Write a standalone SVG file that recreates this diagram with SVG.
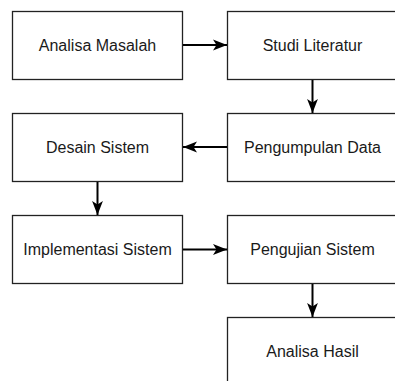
<svg xmlns="http://www.w3.org/2000/svg" width="395" height="381" viewBox="0 0 395 381">
<style>
.box{fill:#fff;stroke:#222;stroke-width:1.3}
.lbl{font-family:"Liberation Sans",Arial,sans-serif;font-size:16px;fill:#1a1a1a;text-anchor:middle;dominant-baseline:central}
.edge{stroke:#000;stroke-width:2;fill:none;marker-end:url(#arr)}
</style>
<defs>
<marker id="arr" viewBox="0 0 14 12" refX="14" refY="6" markerWidth="14" markerHeight="12" markerUnits="userSpaceOnUse" orient="auto">
<path d="M0,0.6 L14,6 L0,11.4 L3.5,6 Z" fill="#000"/>
</marker>
</defs>
<rect width="395" height="381" fill="#fff"/>
<g id="n1"><rect class="box" x="12.5" y="11.5" width="170" height="68"/><text class="lbl" x="97.5" y="45.5">Analisa Masalah</text></g>
<g id="n2"><rect class="box" x="227.5" y="11.5" width="170" height="68"/><text class="lbl" x="312.5" y="45.5">Studi Literatur</text></g>
<g id="n3"><rect class="box" x="227.5" y="113.5" width="170" height="68"/><text class="lbl" x="312.5" y="147.5">Pengumpulan Data</text></g>
<g id="n4"><rect class="box" x="12.5" y="113.5" width="170" height="68"/><text class="lbl" x="97.5" y="147.5">Desain Sistem</text></g>
<g id="n5"><rect class="box" x="12.5" y="215.5" width="170" height="68"/><text class="lbl" x="97.5" y="249.5">Implementasi Sistem</text></g>
<g id="n6"><rect class="box" x="227.5" y="215.5" width="170" height="68"/><text class="lbl" x="312.5" y="249.5">Pengujian Sistem</text></g>
<g id="n7"><rect class="box" x="227.5" y="317.5" width="170" height="68"/><text class="lbl" x="312.5" y="351.5">Analisa Hasil</text></g>
<g id="edges">
<path class="edge" d="M183,45 H227"/>
<path class="edge" d="M312.5,80 V113"/>
<path class="edge" d="M227,147 H183"/>
<path class="edge" d="M97.5,182 V215"/>
<path class="edge" d="M183,249.5 H227"/>
<path class="edge" d="M312.5,284 V317"/>
</g>
</svg>
